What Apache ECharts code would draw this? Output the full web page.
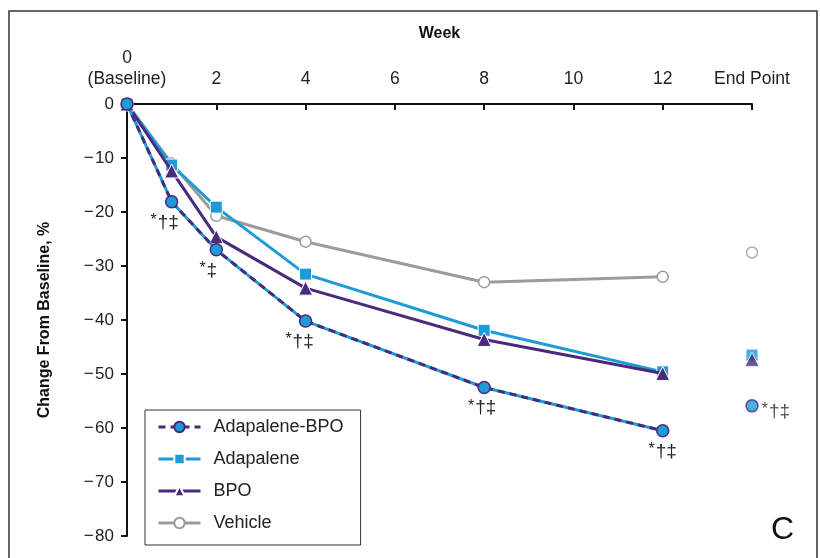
<!DOCTYPE html>
<html lang="en">
<head>
    <meta charset="UTF-8">
    <title>Change from baseline</title>
    <script src="https://cdn.jsdelivr.net/npm/echarts@6/dist/echarts.min.js"></script>
    <style>
        html, body { margin: 0; padding: 0; background: #fff; }
        #container { width: 820px; height: 558px; }
    </style>
</head>
<body>
<div id="container"></div>
<script>
    // weeks of each visit; End Point is drawn at week 14
    var weeks = [0, 1, 2, 4, 8, 12];
    var endPointWeek = 14;
    var tickLabels = { 0: '0\n(Baseline)', 2: '2', 4: '4', 6: '6', 8: '8', 10: '10', 12: '12', 14: 'End Point' };

    var adapaleneBpo = [0, -18.1, -27.0, -40.2, -52.5, -60.5];
    var adapaleneBpoEnd = -55.9;
    var adapalene = [0, -11.3, -19.1, -31.5, -41.9, -49.6];
    var adapaleneEnd = -46.5;
    var bpo = [0, -12.4, -24.6, -34.1, -43.6, -49.9];
    var bpoEnd = -47.3;
    var vehicle = [0, -11.0, -20.7, -25.5, -33.0, -32.0];
    var vehicleEnd = -27.5;

    var annotations = ['', '*†‡', '*‡', '*†‡', '*†‡', '*†‡'];
    var annotationEnd = '*†‡';

    var BLUE = '#1e9ad6';
    var PURPLE = '#4a2a7a';
    var GRAY = '#9b9b9b';
    var FONT = 'Liberation Sans';

    function pairs(vals) {
        return weeks.map(function (w, i) { return [w, vals[i]]; });
    }
    function minus(v) {
        return v < 0 ? '\u2212\u200a' + Math.abs(v) : String(v);
    }
    // asterisk smaller and raised, daggers larger
    function markText(s) {
        return s.replace('*', '{a|*}').replace(/([†‡]+)/, '{d|$1}');
    }
    var markRich = {
        a: { fontSize: 16, color: '#222', fontFamily: FONT, verticalAlign: 'top', padding: [0, 1, 4, 0] },
        d: { fontSize: 19, color: '#222', fontFamily: FONT }
    };

    var labelOffsets = [[0, 0], [-7, 0], [-8, 0], [-6, 0], [-2, 0], [0, 0]];
    var abpoData = weeks.map(function (w, i) {
        var item = { value: [w, adapaleneBpo[i]] };
        if (annotations[i]) {
            item.label = {
                show: true, position: 'bottom', distance: 4, offset: labelOffsets[i],
                formatter: markText(annotations[i]), rich: markRich
            };
        }
        return item;
    });

    var dom = document.getElementById('container');
    var myChart = echarts.init(dom, null, { renderer: 'canvas' });

    var option = {
        animation: false,
        textStyle: { fontFamily: FONT },
        grid: { left: 127, right: 68, top: 104, bottom: 22 },
        legend: {
            data: ['Adapalene-BPO', 'Adapalene', 'BPO', 'Vehicle'],
            orient: 'vertical',
            left: 145,
            top: 410,
            padding: [8, 17, 13, 12],
            borderColor: '#333',
            borderWidth: 1,
            itemGap: 14,
            itemWidth: 42,
            itemHeight: 13,
            lineStyle: { width: 3 },
            textStyle: { fontSize: 18, color: '#222', padding: [0, 0, 0, 8] }
        },
        xAxis: {
            type: 'value',
            position: 'top',
            min: 0,
            max: endPointWeek,
            interval: 2,
            name: 'Week',
            nameLocation: 'middle',
            nameGap: 62,
            nameTextStyle: { fontSize: 16, fontWeight: 'bold', color: '#111' },
            axisLine: { lineStyle: { color: '#111', width: 2 } },
            axisTick: { inside: true, length: 6, lineStyle: { color: '#111', width: 2 } },
            axisLabel: {
                fontSize: 17.5, color: '#222', margin: 14, lineHeight: 21,
                formatter: function (v) { return tickLabels[v] || ''; }
            },
            splitLine: { show: false }
        },
        yAxis: {
            type: 'value',
            min: -80,
            max: 0,
            interval: 10,
            name: 'Change From Baseline, %',
            nameLocation: 'middle',
            nameGap: 74,
            nameTextStyle: { fontSize: 16, fontWeight: 'bold', color: '#111' },
            axisLine: { show: true, lineStyle: { color: '#111', width: 2 } },
            axisTick: { show: true, length: 6, lineStyle: { color: '#111', width: 2 } },
            axisLabel: { fontSize: 17, color: '#222', margin: 13, formatter: minus },
            splitLine: { show: false }
        },
        graphic: [
            {
                type: 'rect', silent: true,
                shape: { x: 9, y: 11, width: 808, height: 570 },
                style: { fill: null, stroke: '#333', lineWidth: 1.5 }
            },
            {
                type: 'text', left: 771, top: 514,
                style: { text: 'C', fontSize: 32, fill: '#111', fontFamily: FONT }
            }
        ],
        series: [
            {
                name: 'Vehicle', type: 'line', z: 2,
                data: pairs(vehicle),
                symbol: 'circle', symbolSize: 11,
                lineStyle: { color: GRAY, width: 3 },
                itemStyle: { color: '#fff', borderColor: GRAY, borderWidth: 1.5 }
            },
            {
                name: 'Vehicle', type: 'scatter', z: 2,
                data: [[endPointWeek, vehicleEnd]],
                symbol: 'circle', symbolSize: 11,
                itemStyle: { color: '#fff', borderColor: GRAY, borderWidth: 1.5 }
            },
            {
                name: 'Adapalene', type: 'line', z: 3,
                data: pairs(adapalene),
                symbol: 'rect', symbolSize: 12,
                lineStyle: { color: BLUE, width: 3 },
                itemStyle: { color: BLUE, borderColor: '#fff', borderWidth: 1 }
            },
            {
                name: 'Adapalene', type: 'scatter', z: 3,
                data: [[endPointWeek, adapaleneEnd]],
                symbol: 'rect', symbolSize: 12,
                itemStyle: { color: BLUE, borderColor: '#fff', borderWidth: 1 }
            },
            {
                name: 'BPO', type: 'line', z: 4,
                data: pairs(bpo),
                symbol: 'triangle', symbolSize: 14,
                lineStyle: { color: PURPLE, width: 3 },
                itemStyle: { color: PURPLE, borderColor: '#fff', borderWidth: 1 }
            },
            {
                name: 'BPO', type: 'scatter', z: 4,
                data: [[endPointWeek, bpoEnd]],
                symbol: 'triangle', symbolSize: 14,
                itemStyle: { color: PURPLE, borderColor: '#fff', borderWidth: 1 }
            },
            {
                // blue base under the dashed purple line
                name: 'Adapalene-BPO base', type: 'line', z: 5,
                data: pairs(adapaleneBpo),
                symbol: 'none',
                lineStyle: { color: BLUE, width: 3 },
                silent: true
            },
            {
                name: 'Adapalene-BPO', type: 'line', z: 6,
                data: abpoData,
                symbol: 'circle', symbolSize: 12,
                lineStyle: { color: PURPLE, width: 3, type: [7, 5] },
                itemStyle: { color: BLUE, borderColor: PURPLE, borderWidth: 1.5 }
            },
            {
                name: 'Adapalene-BPO', type: 'scatter', z: 6,
                data: [{
                    value: [endPointWeek, adapaleneBpoEnd],
                    label: {
                        show: true, position: 'right', distance: 3, offset: [0, 6],
                        formatter: markText(annotationEnd), rich: markRich
                    }
                }],
                symbol: 'circle', symbolSize: 12,
                itemStyle: { color: BLUE, borderColor: PURPLE, borderWidth: 1.5 }
            }
        ]
    };

    myChart.setOption(option);
    window.addEventListener('resize', myChart.resize);
</script>
</body>
</html>
